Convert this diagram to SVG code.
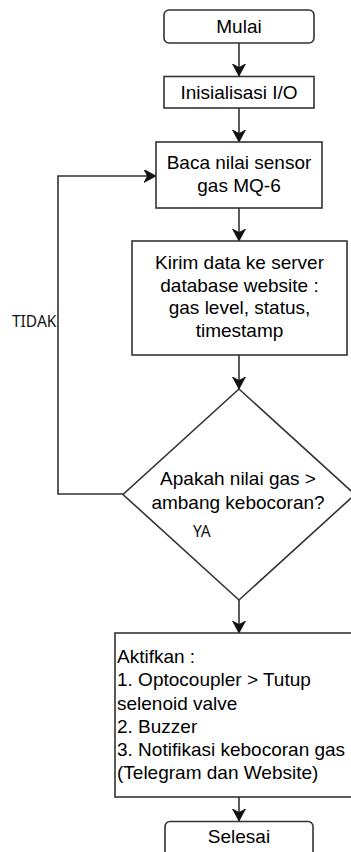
<svg xmlns="http://www.w3.org/2000/svg" width="351" height="852" viewBox="0 0 351 852">
  <style>
    .shape { fill: #ffffff; stroke: #333333; stroke-width: 1.6; }
    .edge { fill: none; stroke: #333333; stroke-width: 1.6; }
    .t { font-family: "Liberation Sans", Arial, sans-serif; font-size: 19px; fill: #000000; }
    .c { text-anchor: middle; }
    .lbl { font-family: "Noto Sans", "Open Sans", sans-serif; font-size: 15.5px; fill: #111111; }
  </style>
  <defs>
    <marker id="arrow" markerUnits="userSpaceOnUse" markerWidth="14" markerHeight="14" refX="12" refY="6.5" orient="auto">
      <path d="M0,0 L12,6.5 L0,13 L3.5,6.5 Z" fill="#111111" stroke="#111111" stroke-width="0.8"/>
    </marker>
  </defs>
  <rect width="351" height="852" fill="#ffffff"/>

  <!-- connectors -->
  <g id="connectors">
    <path class="edge" d="M239,43 L239,76" marker-end="url(#arrow)"/>
    <path class="edge" d="M239,108 L239,142" marker-end="url(#arrow)"/>
    <path class="edge" d="M239,208 L239,241" marker-end="url(#arrow)"/>
    <path class="edge" d="M239,355 L239,389" marker-end="url(#arrow)"/>
    <path class="edge" d="M123,494 L58,494 L58,176 L156,176" marker-end="url(#arrow)"/>
    <path class="edge" d="M239,600 L239,633" marker-end="url(#arrow)"/>
    <path class="edge" d="M239,797 L239,821" marker-end="url(#arrow)"/>
  </g>

  <g id="start">
    <rect class="shape" x="164" y="10" width="150" height="33" rx="5"/>
    <text class="t c" x="239" y="33">Mulai</text>
  </g>

  <g id="init">
    <rect class="shape" x="164" y="76.5" width="150" height="31.5"/>
    <text class="t c" x="239" y="99">Inisialisasi I/O</text>
  </g>

  <g id="read-sensor">
    <rect class="shape" x="156" y="142" width="166" height="66"/>
    <text class="t c" x="239" y="169">Baca nilai sensor</text>
    <text class="t c" x="239" y="191.5">gas MQ-6</text>
  </g>

  <g id="send-data">
    <rect class="shape" x="132" y="241" width="215" height="114"/>
    <text class="t c" x="239.5" y="269">Kirim data ke server</text>
    <text class="t c" x="239.5" y="291.5">database website :</text>
    <text class="t c" x="239.5" y="314">gas level, status,</text>
    <text class="t c" x="239.5" y="337">timestamp</text>
  </g>

  <g id="decision">
    <polygon class="shape" points="239,389 355,494.5 239,600 123,494.5"/>
    <text class="t c" x="238" y="485">Apakah nilai gas &gt;</text>
    <text class="t c" x="238" y="508.5">ambang kebocoran?</text>
  </g>

  <g id="actions">
    <rect class="shape" x="115" y="633" width="250" height="164"/>
    <text class="t" x="117" y="663">Aktifkan :</text>
    <text class="t" x="117" y="686">1. Optocoupler &gt; Tutup</text>
    <text class="t" x="117" y="709.5">selenoid valve</text>
    <text class="t" x="117" y="732.5">2. Buzzer</text>
    <text class="t" x="117" y="756">3. Notifikasi kebocoran gas</text>
    <text class="t" x="117" y="779">(Telegram dan Website)</text>
  </g>

  <g id="end">
    <rect class="shape" x="165" y="821.5" width="148" height="40" rx="5"/>
    <text class="t c" x="239" y="843">Selesai</text>
  </g>

  <!-- branch labels, drawn on top of the shapes -->
  <g id="edge-labels">
    <text class="lbl" x="12" y="327">TIDAK</text>
    <text class="lbl" x="193" y="537">YA</text>
  </g>
</svg>
